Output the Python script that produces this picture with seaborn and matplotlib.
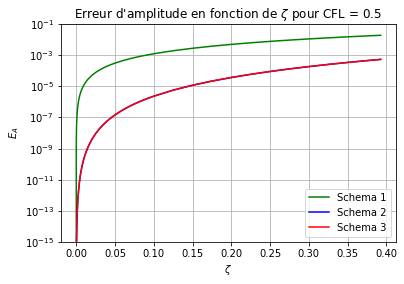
import matplotlib
matplotlib.use("Agg")
import matplotlib.pyplot as plt
import seaborn as sns
import pandas as pd

# zeta values (read along the x-axis)
zeta = [0.0, 0.0001, 0.0002, 0.0003, 0.0005, 0.0007, 0.001, 0.0015, 0.002, 0.003,
        0.004, 0.005, 0.006, 0.0075, 0.008, 0.01, 0.0125, 0.015, 0.02, 0.025,
        0.03, 0.035, 0.04, 0.045, 0.05, 0.06, 0.07, 0.075, 0.08, 0.09,
        0.1, 0.125, 0.15, 0.175, 0.2, 0.225, 0.25, 0.275, 0.3, 0.325,
        0.35, 0.375, 0.3927]

schema1 = [0.0, 1.25e-9, 5.0e-9, 1.125e-8, 3.125e-8, 6.1e-8, 1.25e-7, 2.81e-7, 5.0e-7, 1.125e-6,
           2.0e-6, 3.125e-6, 4.5e-6, 7.03e-6, 8.0e-6, 1.25e-5, 1.953e-5, 2.8125e-5, 5.0e-5, 7.81e-5,
           1.125e-4, 1.531e-4, 2.0e-4, 2.531e-4, 3.125e-4, 4.499e-4, 6.124e-4, 7.031e-4, 7.998e-4, 1.0122e-3,
           1.2497e-3, 1.9525e-3, 2.811e-3, 3.826e-3, 4.996e-3, 6.321e-3, 7.802e-3, 9.438e-3, 1.1229e-2, 1.3174e-2,
           1.527e-2, 1.7527e-2, 1.921e-2]

schema2 = [0.0, 3.75e-19, 3.75e-17, 1.9e-16, 1.46e-15, 5.63e-15, 2.34e-14, 1.187e-13, 3.75e-13, 1.9e-12,
           6.0e-12, 1.465e-11, 3.04e-11, 7.42e-11, 9.6e-11, 2.344e-10, 5.72e-10, 1.187e-9, 3.75e-9, 9.155e-9,
           1.898e-8, 3.517e-8, 5.999e-8, 9.611e-8, 1.4642e-7, 3.0375e-7, 5.627e-7, 7.409e-7, 9.6e-7, 1.5377e-6,
           2.3398e-6, 5.707e-6, 1.1821e-5, 2.187e-5, 3.725e-5, 5.956e-5, 9.061e-5, 1.3235e-4, 1.8702e-4, 2.5689e-4,
           3.446e-4, 4.5263e-4, 5.434e-4]

schema3 = [0.0, 3.75e-19, 3.75e-17, 1.9e-16, 1.46e-15, 5.63e-15, 2.34e-14, 1.187e-13, 3.75e-13, 1.9e-12,
           6.0e-12, 1.465e-11, 3.04e-11, 7.42e-11, 9.6e-11, 2.344e-10, 5.72e-10, 1.187e-9, 3.75e-9, 9.155e-9,
           1.898e-8, 3.517e-8, 5.999e-8, 9.611e-8, 1.4642e-7, 3.0375e-7, 5.627e-7, 7.409e-7, 9.6e-7, 1.5377e-6,
           2.3398e-6, 5.707e-6, 1.1821e-5, 2.187e-5, 3.725e-5, 5.956e-5, 9.061e-5, 1.3235e-4, 1.8702e-4, 2.5689e-4,
           3.446e-4, 4.5263e-4, 5.434e-4]

labels = ["Schema 1", "Schema 2", "Schema 3"]
colors = ["green", "blue", "red"]

df = pd.DataFrame({"zeta": zeta, "s1": schema1, "s2": schema2, "s3": schema3})

fig = plt.figure(figsize=(404 / 72, 284 / 72), dpi=72)
ax = fig.add_axes([0.151, 0.148, 0.829, 0.767])

for col, lab, c in zip(["s1", "s2", "s3"], labels, colors):
    sns.lineplot(data=df, x="zeta", y=col, color=c, label=lab, ax=ax,
                 estimator=None, sort=False, linewidth=1.5)

ax.set_yscale("log")
ax.set_ylim(1e-15, 1e-1)
ax.set_xlim(-0.0196, 0.4123)
ax.set_xticks([0.0, 0.05, 0.10, 0.15, 0.20, 0.25, 0.30, 0.35, 0.40])
ax.set_yticks([1e-15, 1e-13, 1e-11, 1e-9, 1e-7, 1e-5, 1e-3, 1e-1])
ax.yaxis.set_minor_locator(matplotlib.ticker.NullLocator())
ax.grid(True, color="#b0b0b0", linewidth=0.8)
ax.set_xlabel(r"$\zeta$")
ax.set_ylabel(r"$E_A$")
ax.set_title(r"Erreur d'amplitude en fonction de $\zeta$ pour CFL = 0.5")
ax.legend(loc="lower right")

fig.savefig("out.png", dpi=72)
